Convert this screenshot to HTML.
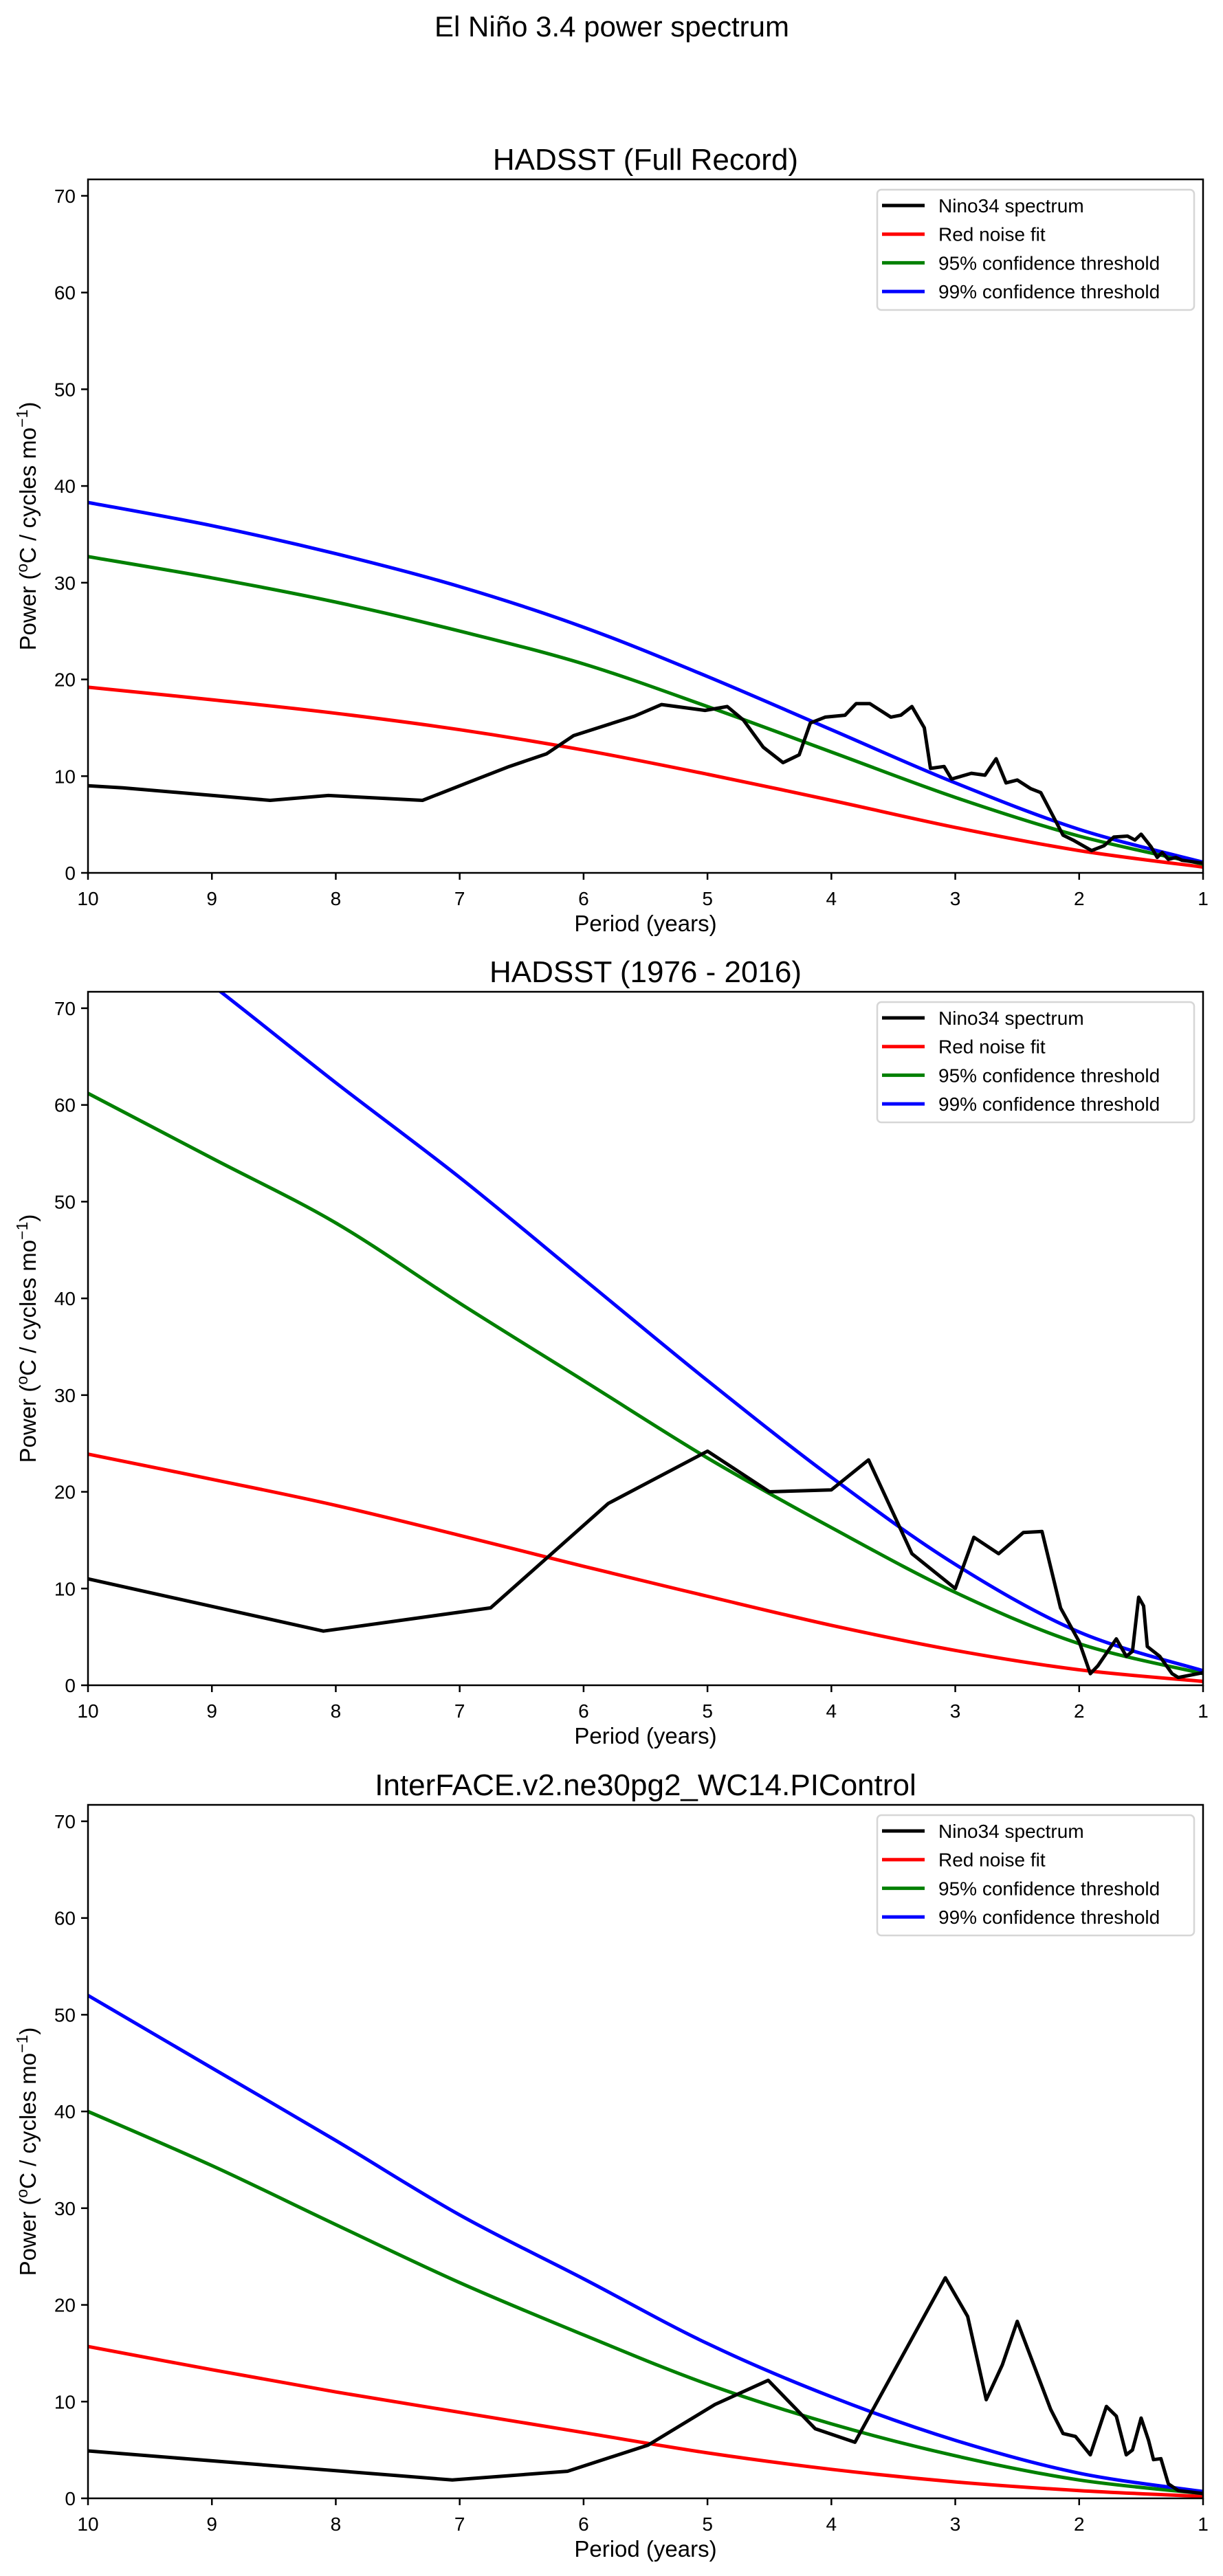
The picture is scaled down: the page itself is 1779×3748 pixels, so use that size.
<!DOCTYPE html>
<html><head><meta charset="utf-8"><style>
html,body{margin:0;padding:0;background:#fff;}
svg{display:block;font-family:"Liberation Sans","DejaVu Sans",sans-serif;}
</style></head>
<body>
<svg id="fig" width="1779" height="3748" viewBox="0 0 1779 3748" xmlns="http://www.w3.org/2000/svg">
<rect width="1779" height="3748" fill="#fff"/>
<text x="890" y="53" font-size="42" text-anchor="middle">El Niño 3.4 power spectrum</text>
</svg>
<script>
// ---------- data ----------
const xTicks = [10,9,8,7,6,5,4,3,2,1];
const yTicks = [0,10,20,30,40,50,60,70];
const panelTitles = ["HADSST (Full Record)","HADSST (1976 - 2016)","InterFACE.v2.ne30pg2_WC14.PIControl"];
const seriesNames = ["Nino34 spectrum","Red noise fit","95% confidence threshold","99% confidence threshold"];
const seriesColors = ["#000000","#ff0000","#008000","#0000ff"];
const curvePeriods = [10,9,8,7,6,5,4,3,2,1];

const p1Red   = [19.2,17.9,16.5,14.8,12.7,10.2,7.5,4.7,2.3,0.6];
const p1Green = [32.7,30.5,28.0,25.0,21.6,17.2,12.5,7.8,3.8,0.9];
const p1Blue  = [38.3,35.9,33.0,29.6,25.4,20.3,14.8,9.3,4.5,1.1];
const p1BlackP = [10,9.72,8.53,8.06,7.3,6.94,6.6,6.3,6.08,5.59,5.37,5.02,4.84,4.71,4.55,4.39,4.26,4.17,4.05,3.89,3.8,3.69,3.52,3.44,3.35,3.25,3.2,3.09,3.03,2.87,2.76,2.67,2.59,2.5,2.39,2.31,2.13,2.05,1.9,1.8,1.72,1.61,1.55,1.5,1.42,1.37,1.33,1.28,1.22,1.17,1.0];
const p1BlackV = [9,8.8,7.5,8,7.5,9.3,11,12.3,14.2,16.2,17.4,16.8,17.2,15.8,13,11.4,12.2,15.5,16.1,16.3,17.5,17.5,16.1,16.3,17.2,15,10.8,11,9.7,10.3,10.1,11.8,9.3,9.6,8.7,8.3,3.9,3.4,2.3,2.8,3.7,3.8,3.4,4.0,2.7,1.6,2.1,1.4,1.6,1.3,1.0];

const p2Red   = [23.9,21.3,18.6,15.5,12.3,9.2,6.2,3.6,1.6,0.4];
const p2Green = [61.2,54.5,47.8,39.5,31.5,23.5,16.3,9.6,4.3,1.2];
const p2Blue  = [82.0,72.4,62.3,52.5,42.0,31.5,21.5,12.5,5.5,1.5];
const p2BlackP = [10,8.1,6.75,5.8,5.0,4.5,4.0,3.7,3.35,3.0,2.85,2.65,2.45,2.3,2.15,2.0,1.91,1.85,1.7,1.62,1.57,1.52,1.48,1.45,1.35,1.25,1.2,1.0];
const p2BlackV = [11,5.6,8,18.8,24.2,20,20.2,23.3,13.6,10,15.3,13.6,15.8,15.9,8,4.5,1.2,2,4.8,3,3.5,9.1,8.2,4,3,1.2,0.8,1.3];

const p3Red   = [15.7,13.3,11.0,8.9,6.8,4.7,3.0,1.7,0.8,0.2];
const p3Green = [40.0,34.4,28.3,22.3,16.9,11.8,7.7,4.4,1.9,0.5];
const p3Blue  = [52.0,44.5,37.0,29.3,22.7,16.0,10.5,6.0,2.6,0.7];
const p3BlackP = [10,7.06,6.13,5.48,4.94,4.51,4.13,3.81,3.08,2.9,2.75,2.62,2.5,2.23,2.13,2.03,1.91,1.78,1.70,1.62,1.57,1.5,1.44,1.4,1.34,1.28,1.2,1.0];
const p3BlackV = [4.9,1.9,2.8,5.5,9.7,12.2,7.2,5.8,22.8,18.8,10.2,13.8,18.3,9.2,6.7,6.4,4.5,9.5,8.5,4.5,5,8.3,6,4,4.1,1.5,0.8,0.5];

// ---------- layout ----------
const NS="http://www.w3.org/2000/svg";
const svg=document.getElementById('fig');
const L=128,R=1750,H=1009,YMAX=71.7;
const bottoms=[1270,2452,3635];
function mk(tag,attrs,parent){const e=document.createElementNS(NS,tag);for(const k in attrs)e.setAttribute(k,attrs[k]);(parent||svg).appendChild(e);return e;}
function xs(p){return L+(10-p)*(R-L)/9;}

const panels=[
 {red:p1Red,green:p1Green,blue:p1Blue,bp:p1BlackP,bv:p1BlackV},
 {red:p2Red,green:p2Green,blue:p2Blue,bp:p2BlackP,bv:p2BlackV},
 {red:p3Red,green:p3Green,blue:p3Blue,bp:p3BlackP,bv:p3BlackV}
];

panels.forEach((pd,i)=>{
  const B=bottoms[i],T=B-H;
  const ys=v=>B-v*H/YMAX;
  const g=mk('g',{});
  
  
  const clip=mk('clipPath',{id:'clip'+i},g);
  mk('rect',{x:L,y:T,width:R-L,height:H},clip);
  const title=mk('text',{x:(L+R)/2,y:T-14,'font-size':44,'text-anchor':'middle'},g);
  title.textContent=panelTitles[i];
  
  
  const lines=[[pd.bp,pd.bv,0],[curvePeriods,pd.red,1],[curvePeriods,pd.green,2],[curvePeriods,pd.blue,3]];
  const sg=mk('g',{'clip-path':'url(#clip'+i+')'},g);
  [lines[1],lines[2],lines[3],lines[0]].forEach(([P,V,k])=>{
    let d='';
    if(k===0){P.forEach((p,j)=>{d+=(j?'L':'M')+xs(p).toFixed(1)+','+ys(V[j]).toFixed(1);});}
    else{
      const pts=P.map((p,j)=>[xs(p),ys(V[j])]);
      d='M'+pts[0][0]+','+pts[0][1];
      for(let j=0;j<pts.length-1;j++){
        const p0=pts[j-1]||pts[j],p1=pts[j],p2=pts[j+1],p3=pts[j+2]||pts[j+1];
        const c1=[p1[0]+(p2[0]-p0[0])/6,p1[1]+(p2[1]-p0[1])/6];
        const c2=[p2[0]-(p3[0]-p1[0])/6,p2[1]-(p3[1]-p1[1])/6];
        d+='C'+c1[0].toFixed(1)+','+c1[1].toFixed(1)+' '+c2[0].toFixed(1)+','+c2[1].toFixed(1)+' '+p2[0].toFixed(1)+','+p2[1].toFixed(1);
      }
    }
    const path=mk('path',{d:d,fill:'none',stroke:seriesColors[k],'stroke-width':5,'stroke-linejoin':'round','stroke-linecap':'square'},sg);
    
    
  });
  const fr=mk('rect',{x:L,y:T,width:R-L,height:H,fill:'none',stroke:'#000','stroke-width':2.5},g);
  
  
  xTicks.forEach(t=>{
    const x=xs(t);
    mk('line',{x1:x,x2:x,y1:B,y2:B+10,stroke:'#000','stroke-width':2.5},g);
    const tx=mk('text',{x:x,y:B+47,'font-size':28,'text-anchor':'middle'},g);
    tx.textContent=t;
    
    
  });
  yTicks.forEach(t=>{
    const y=ys(t);
    mk('line',{x1:L-10,x2:L,y1:y,y2:y,stroke:'#000','stroke-width':2.5},g);
    const tx=mk('text',{x:L-18,y:y+10,'font-size':28,'text-anchor':'end'},g);
    tx.textContent=t;
    
    
  });
  const xl=mk('text',{x:(L+R)/2,y:B+85,'font-size':33,'text-anchor':'middle'},g);
  xl.textContent='Period (years)';
  
  
  const yl=mk('text',{x:0,y:0,'font-size':33,'text-anchor':'middle',transform:'translate(52,'+((T+B)/2)+') rotate(-90)'},g);
  
  
  yl.innerHTML='Power (<tspan font-size="23" dy="-12">o</tspan><tspan dy="12">C / cycles mo</tspan><tspan font-size="23" dy="-12">−1</tspan><tspan dy="12">)</tspan>';
  const lg=mk('g',{},g);
  
  
  mk('rect',{x:1276,y:T+15,width:461,height:175,rx:6,fill:'#fff','fill-opacity':0.8,stroke:'#d6d6d6','stroke-width':2.5},lg);
  seriesNames.forEach((n,k)=>{
    const y=T+38+k*41.7;
    mk('line',{x1:1283,x2:1345,y1:y,y2:y,stroke:seriesColors[k],'stroke-width':5},lg);
    const tx=mk('text',{x:1365,y:y+10,'font-size':28},lg);
    tx.textContent=n;
    
    
  });
});
</script>
</body></html>
